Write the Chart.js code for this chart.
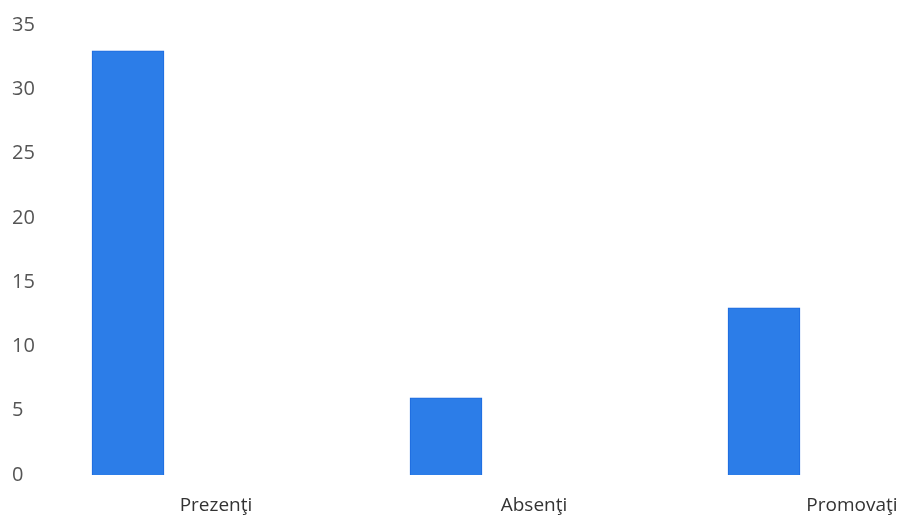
<!DOCTYPE html>
<html>
<head>
<meta charset="utf-8">
<script src="https://cdn.jsdelivr.net/npm/chart.js@4"></script>
<style>
  html, body { margin: 0; padding: 0; background: #ffffff; overflow: hidden; }
  #wrap { width: 907px; height: 522px; position: relative; }
</style>
</head>
<body>
<div id="wrap"><canvas id="c"></canvas></div>
<script>
const categories = ["Prezenţi", "Absenţi", "Promovaţi"];
const values = [33, 6, 13];
const yTicks = [0, 5, 10, 15, 20, 25, 30, 35];

new Chart(document.getElementById('c'), {
  type: 'bar',
  data: {
    labels: categories,
    datasets: [{
      data: values,
      backgroundColor: '#2c7de8',
      borderColor: '#1c6ade',
      borderWidth: 1,
      barThickness: 72,
      clip: false
    }]
  },
  options: {
    responsive: true,
    maintainAspectRatio: false,
    animation: false,
    layout: { padding: { left: 12, right: 143, top: 25, bottom: 2 } },
    plugins: { legend: { display: false }, tooltip: { enabled: false } },
    scales: {
      x: {
        offset: false,
        afterFit: (axis) => { axis.height = 45; },
        grid: { display: false, drawTicks: false },
        border: { display: false },
        ticks: {
          padding: 19,
          labelOffset: 88,
          color: '#333333',
          font: { family: 'Open Sans', size: 19 },
          maxRotation: 0,
          autoSkip: false
        }
      },
      y: {
        min: 0,
        max: 35,
        afterBuildTicks: (axis) => { axis.ticks = yTicks.map(v => ({ value: v })); },
        afterFit: (axis) => { axis.width = 116; },
        grid: { display: false, drawTicks: false },
        border: { display: false },
        ticks: {
          crossAlign: 'far',
          padding: 0,
          color: '#555555',
          font: { family: 'Open Sans', size: 20 }
        }
      }
    }
  }
});
</script>
</body>
</html>
